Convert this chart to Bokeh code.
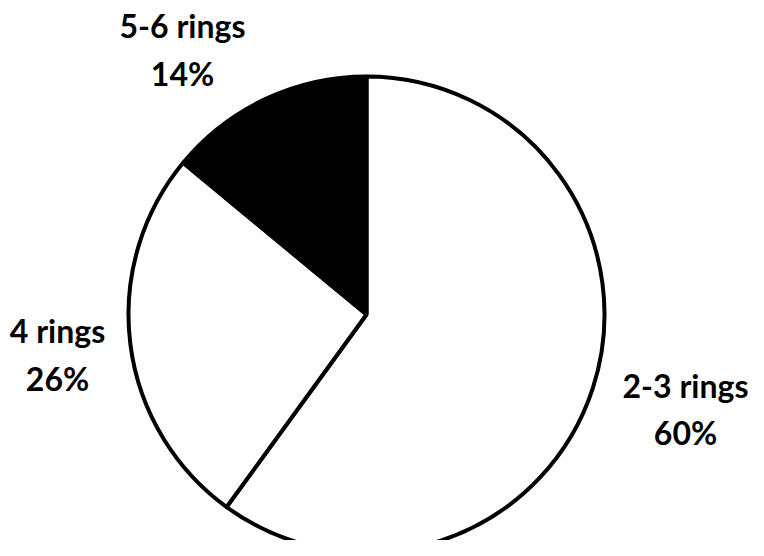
import math
from bokeh.plotting import figure
from bokeh.models import Range1d, ColumnDataSource
from bokeh.core.properties import value
from bokeh.embed import file_html
from bokeh.resources import INLINE

# ---- data ----
categories = ["2-3 rings", "4 rings", "5-6 rings"]
percentages = [60, 26, 14]
pct_labels = ["60%", "26%", "14%"]
fill_colors = ["#ffffff", "#ffffff", "#000000"]

# ---- layout (pixel frame coordinates, y measured downward) ----
W, H = 748, 540
CX, CY, R = 366, 314, 238
# label anchors: (x centre, y of first line, y of second line)
label_pos = [(685, 385, 432), (57, 330, 378), (182, 25, 73)]

p = figure(width=W, height=H, output_backend="svg", toolbar_location=None,
           x_range=Range1d(0, W), y_range=Range1d(-H, 0), min_border=0,
           title=None, x_axis_location=None, y_axis_location=None)
p.grid.visible = False
p.outline_line_color = None
p.background_fill_color = "white"
p.border_fill_color = "white"

total = float(sum(percentages))
starts, ends = [], []
cum = 0.0
for v in percentages:
    a0 = math.pi / 2 - 2 * math.pi * cum / total
    cum += v
    a1 = math.pi / 2 - 2 * math.pi * cum / total
    starts.append(a0)
    ends.append(a1)

src = ColumnDataSource(dict(start=starts, end=ends, color=fill_colors,
                            x=[CX] * 3, y=[-CY] * 3))
p.wedge(x="x", y="y", radius=R, start_angle="start", end_angle="end",
        direction="clock", fill_color="color", line_color="black",
        line_width=4, source=src)

lx = [lp[0] for lp in label_pos]
src1 = ColumnDataSource(dict(x=lx, y=[-lp[1] for lp in label_pos], t=categories))
src2 = ColumnDataSource(dict(x=lx, y=[-lp[2] for lp in label_pos], t=pct_labels))
for s in (src1, src2):
    p.text(x="x", y="y", text="t", source=s, text_align="center",
           text_baseline="alphabetic", text_font=value("Lato"),
           text_font_style="bold", text_font_size="32px", text_color="black")

open("out.html", "w").write(file_html(p, INLINE))
